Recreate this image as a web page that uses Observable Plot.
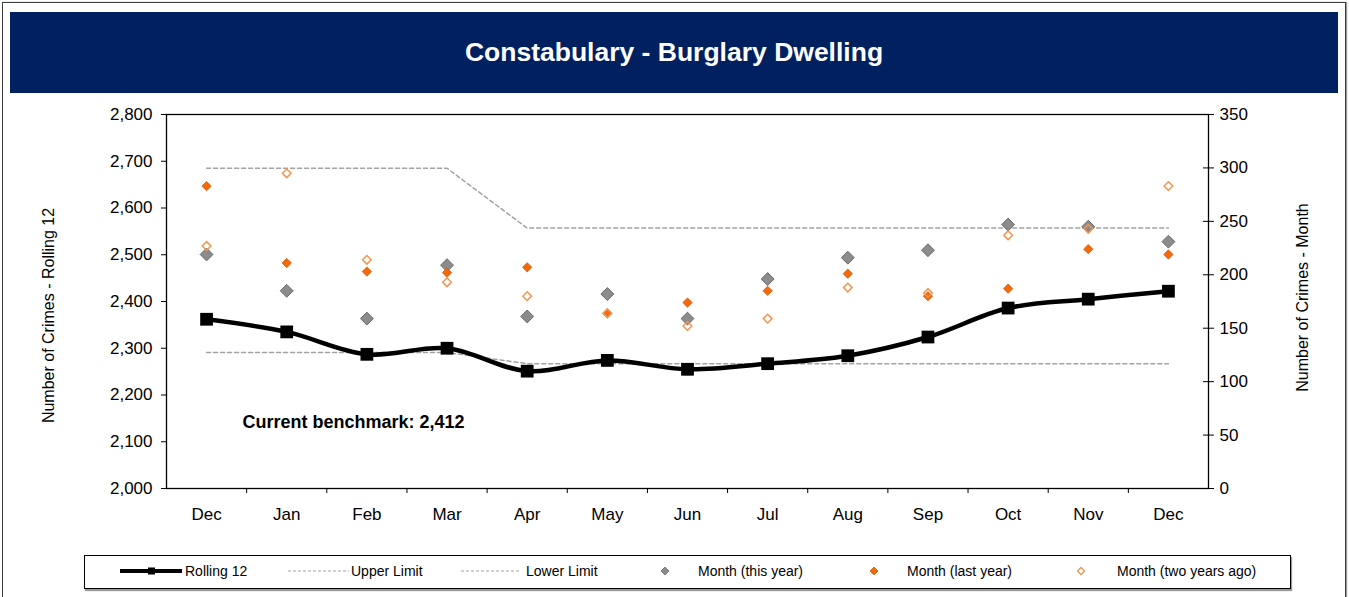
<!DOCTYPE html>
<html>
<head>
<meta charset="utf-8">
<script src="https://cdn.jsdelivr.net/npm/d3@7"></script>
<script src="https://cdn.jsdelivr.net/npm/@observablehq/plot@0.6"></script>
<style>
  html, body { margin: 0; padding: 0; background: #fff; }
  #wrap { position: relative; width: 1349px; height: 597px; overflow: hidden; font-family: "Liberation Sans", Arial, sans-serif; }
  #frame { position: absolute; left: 2px; top: 2px; width: 1342px; height: 600px; border: 1px solid #3c3c3c; box-shadow: 1px 0 1px #999; }
  #banner { position: absolute; left: 10px; top: 12px; width: 1328px; height: 81px; background: #002060; color: #fff;
            font-weight: bold; font-size: 26.5px; line-height: 81px; text-align: center; }
  #chart { position: absolute; left: 0; top: 95px; }
  #legend { position: absolute; left: 84px; top: 555px; width: 1205px; height: 32px; border: 1px solid #000; background: #fff;
            box-shadow: 1px 2px 1px #9a9a9a; }
  #legend svg { position: absolute; left: 0; top: 0; }
</style>
</head>
<body>
<div id="wrap">
  <div id="frame"></div>
  <div id="banner">Constabulary - Burglary Dwelling</div>
  <div id="chart"></div>
  <div id="legend"></div>
</div>
<script>
// ---- data ----
const months = ["Dec","Jan","Feb","Mar","Apr","May","Jun","Jul","Aug","Sep","Oct","Nov","Dec"];
const rolling12   = [2362, 2335, 2287, 2300, 2251, 2274, 2255, 2267, 2284, 2324, 2386, 2405, 2422];
const upperLimit  = [2685, 2685, 2685, 2685, 2557, 2557, 2557, 2557, 2557, 2557, 2557, 2557, 2557];
const lowerLimit  = [2291, 2291, 2291, 2291, 2267, 2267, 2267, 2267, 2267, 2267, 2267, 2267, 2267];
const thisYear    = [219, 185, 159, 209, 161, 182, 159, 196, 216, 223, 247, 245, 231];
const lastYear    = [283, 211, 203, 202, 207, 164, 174, 185, 201, 180, 187, 224, 219];
const twoYearsAgo = [227, 295, 214, 193, 180, 164, 152, 159, 188, 183, 237, 243, 283];
const benchmark = 2412;
const leftTicks  = [2000, 2100, 2200, 2300, 2400, 2500, 2600, 2700, 2800];
const rightTicks = [0, 50, 100, 150, 200, 250, 300, 350];
const leftTitle = "Number of Crimes - Rolling 12";
const rightTitle = "Number of Crimes - Month";
const legendLabels = ["Rolling 12", "Upper Limit", "Lower Limit", "Month (this year)", "Month (last year)", "Month (two years ago)"];

// ---- build ----
const leftDomain = [leftTicks[0], leftTicks[leftTicks.length - 1]];
const rightDomain = [rightTicks[0], rightTicks[rightTicks.length - 1]];
const k = (leftDomain[1] - leftDomain[0]) / (rightDomain[1] - rightDomain[0]);
const toLeft = v => leftDomain[0] + (v - rightDomain[0]) * k;
const fromLeft = v => rightDomain[0] + (v - leftDomain[0]) / k;

const rows = months.map((m, i) => ({
  i, m,
  rolling: rolling12[i], upper: upperLimit[i], lower: lowerLimit[i],
  thisYear: thisYear[i], lastYear: lastYear[i], twoYearsAgo: twoYearsAgo[i]
}));
const idx = months.map((_, i) => i);
const bounds = idx.slice(0, -1).map(i => i + 0.5);

const diamond = {
  draw(context, size) {
    const r = Math.sqrt(size) * 0.62625;
    context.moveTo(0, -r); context.lineTo(r, 0); context.lineTo(0, r); context.lineTo(-r, 0); context.closePath();
  }
};

const W = 1349, H = 445, mL = 166, mR = 141, mT = 19, mB = 52;
const plotW = W - mL - mR;

const chart = Plot.plot({
  width: W, height: H,
  marginLeft: mL, marginRight: mR, marginTop: mT, marginBottom: mB,
  style: { fontFamily: "'Liberation Sans', Arial, sans-serif", fontSize: "17px", color: "#000", background: "transparent", overflow: "visible" },
  x: { type: "linear", domain: [-0.5, months.length - 0.5] },
  y: { domain: leftDomain, label: null },
  marks: [
    Plot.axisX(idx, { tickSize: 0, tickPadding: 19, tickFormat: i => months[i], fontSize: 17, label: null }),
    Plot.axisX(bounds, { tickSize: 5, tickFormat: () => "", stroke: "#000", label: null }),
    Plot.axisY(leftTicks, { anchor: "left", tickSize: 5, tickPadding: 9, tickFormat: d3.format(","), fontSize: 17, stroke: "#000", label: null }),
    Plot.axisY(rightTicks.map(toLeft), { anchor: "right", tickSize: 5, tickPadding: 6, tickFormat: d => d3.format(",")(Math.round(fromLeft(d))), fontSize: 17, stroke: "#000", label: null }),
    Plot.ruleY(rightTicks.map(toLeft), { insetLeft: plotW - 5, stroke: "#000" }),
    Plot.frame({ stroke: "#000", strokeWidth: 1.3 }),
    Plot.line(rows, { x: "i", y: "upper", stroke: "#a3a3a3", strokeWidth: 1.5, strokeDasharray: "4,3" }),
    Plot.line(rows, { x: "i", y: "lower", stroke: "#a3a3a3", strokeWidth: 1.5, strokeDasharray: "4,3" }),
    Plot.line(rows, { x: "i", y: "rolling", stroke: "#000", strokeWidth: 4.5, curve: "catmull-rom" }),
    Plot.dot(rows, { x: "i", y: "rolling", symbol: "square", r: 7.2, fill: "#000" }),
    Plot.dot(rows, { x: "i", y: d => toLeft(d.thisYear), symbol: diamond, r: 5.8, fill: "#8c8c8c", stroke: "#6a6a6a", strokeWidth: 1 }),
    Plot.dot(rows, { x: "i", y: d => toLeft(d.lastYear), symbol: diamond, r: 4.2, fill: "#f26a0c", stroke: "#d65a06", strokeWidth: 0.8 }),
    Plot.dot(rows, { x: "i", y: d => toLeft(d.twoYearsAgo), symbol: diamond, r: 3.9, fill: "none", stroke: "#f5944f", strokeWidth: 1.5 }),
    Plot.text([`Current benchmark: ${d3.format(",")(benchmark)}`], { frameAnchor: "bottom-left", text: d => d, dx: 76, dy: -66, textAnchor: "start", lineAnchor: "middle", fontWeight: "bold", fontSize: 18, fill: "#000" }),
    Plot.text([leftTitle], { frameAnchor: "left", text: d => d, rotate: -90, dx: -118, dy: 14, textAnchor: "middle", lineAnchor: "middle", fontSize: 16, fill: "#000" }),
    Plot.text([rightTitle], { frameAnchor: "right", text: d => d, rotate: -90, dx: 94, dy: -4, textAnchor: "middle", lineAnchor: "middle", fontSize: 16, fill: "#000" })
  ]
});
document.getElementById("chart").appendChild(chart);

// ---- legend ----
const lg = d3.select("#legend").append("svg").attr("width", 1205).attr("height", 32)
  .style("font-family", "'Liberation Sans', Arial, sans-serif").style("font-size", "14px");
const cy = 15;
const diamondPath = r => `M0,${-r}L${r},0L0,${r}L${-r},0Z`;
// Rolling 12
lg.append("line").attr("x1", 35).attr("x2", 97).attr("y1", cy).attr("y2", cy).attr("stroke", "#000").attr("stroke-width", 4);
lg.append("rect").attr("x", 63).attr("y", cy - 3.5).attr("width", 7).attr("height", 7).attr("fill", "#000");
// dashed limits
[[203, 264], [376, 436]].forEach(([a, b]) => lg.append("line").attr("x1", a).attr("x2", b).attr("y1", cy).attr("y2", cy)
  .attr("stroke", "#a3a3a3").attr("stroke-width", 1.2).attr("stroke-dasharray", "3,2"));
// diamonds
lg.append("path").attr("d", diamondPath(4)).attr("transform", `translate(580,${cy})`).attr("fill", "#8c8c8c").attr("stroke", "#6a6a6a").attr("stroke-width", 0.8);
lg.append("path").attr("d", diamondPath(4)).attr("transform", `translate(789,${cy})`).attr("fill", "#f26a0c").attr("stroke", "#d65a06").attr("stroke-width", 0.8);
lg.append("path").attr("d", diamondPath(3.5)).attr("transform", `translate(996,${cy})`).attr("fill", "none").attr("stroke", "#f5944f").attr("stroke-width", 1.3);
const textX = [100, 266, 441, 613, 822, 1032];
legendLabels.forEach((t, j) => lg.append("text").attr("x", textX[j]).attr("y", cy).attr("dy", "0.35em").attr("fill", "#000").text(t));
</script>
</body>
</html>
